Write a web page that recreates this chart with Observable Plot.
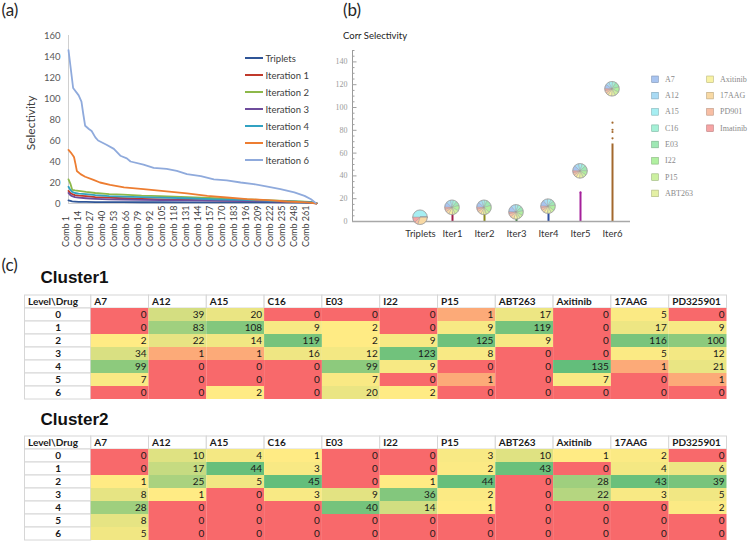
<!DOCTYPE html>
<html><head><meta charset="utf-8">
<script src="https://cdn.jsdelivr.net/npm/d3@7"></script>
<script src="https://cdn.jsdelivr.net/npm/@observablehq/plot@0.6"></script>
<style>
html,body{margin:0;padding:0;background:#fff;}
#root{position:relative;width:749px;height:546px;overflow:hidden;background:#fff;}
#root > svg{position:absolute;}
</style></head><body><div id="root"></div>
<script>
// ---------------- (a) Selectivity per combination ----------------
const seriesA = ["Triplets","Iteration 1","Iteration 2","Iteration 3","Iteration 4","Iteration 5","Iteration 6"];
const colorsA = ["#2f5597","#c0392b","#8db84a","#6e4c9c","#31a2c2","#ed7d31","#8faadc"];
const combTicks = [1,14,27,40,53,66,79,92,105,118,131,144,157,170,183,196,209,222,235,248,261];
const yTicksA = [0,20,40,60,80,100,120,140,160];
// shared combo grid for the lower series
const gridA = [1,3,5,8,12,20,30,45,60,80,100,130,160,190,220,250,262,269];
const triplets = [3,2.5,2,1.8,1.6,1.5,1.4,1.3,1.3,1.2,1.2,1.1,1.1,1,1,0.8,0.6,0.2];
const iter1 = [12,10,9,8,7.5,7,6,5.5,5,4.5,4,3.5,3,2.7,2.2,1.6,1,0.2];
const iter2 = [23,19,13,12.5,12,11,10,9,8.5,7.5,7,6,5,4,3,2,1.5,0.3];
const iter3 = [10,8,7,6,5.5,5,4.5,4,3.8,3.5,3.2,3,2.7,2.4,2,1.5,1,0.2];
const iter4 = [16,13,11,10,9.5,9,8,7,6.5,6,5.5,5,4,3.5,2.5,1.8,1.2,0.2];
const grid5 = [1,3.5,6,7,8.6,10,14,19,28,35,46,61,82,107,129,151,172,194,216,237,259,269];
const iter5 = [51,48.5,45.5,44,37.5,31,28,25.5,22.5,20,17.8,15.3,13.7,11.5,9.6,7.3,5.7,4.1,3.2,1.9,1,0];
const grid6 = [1,6,12,15,17,19,23,26,30,33,42,50,57,64,68,82,93,107,118,129,144,158,172,187,201,216,230,245,256,263,268];
const iter6 = [146,110,103,97,85,74,71,69,63,60,56,52,45.5,43,40,37,34,33,31,28,26,23,22,20,18.5,16,13.7,10.5,7.3,4,0.6];

// ---------------- (b) Corr Selectivity ----------------
const catsB = ["Triplets","Iter1","Iter2","Iter3","Iter4","Iter5","Iter6"];
const pieY = [3.3,12,12,8,13,44,116];
const stemTop = [0,8,8,5,9,25,68];
const stemColors = ["#888888","#a0204a","#8c8c1e","#3d7a3d","#2d4fa0","#a5209b","#a3682d"];
const outlierCat = ["Iter5","Iter6","Iter6","Iter6","Iter6"];
const outlierVal = [25.5,73,78.5,80.5,86.7];
const yTicksB = [0,20,40,60,80,100,120,140];
const yMinorB = [5,10,15,25,30,35,45,50,55,65,70,75,85,90,95,105,110,115,125,130,135,145,150];
const pieDrugs = ["A7","A12","A15","C16","E03","I22","P15","ABT263","Axitinib","17AAG","PD901","Imatinib"];
const pieColors = ["#a8c4f0","#a8daf4","#a6eef2","#a4f0d6","#9fe8b4","#b0f0a0","#ccf0a0","#e4f0a4","#f8f2a4","#f8d9a4","#f8bea4","#f6a4a4"];
const pieShares = [
  [0,0,50,0,0,0,0,0,0,30,8,12],
  [12,10,6,8,10,12,10,6,8,8,6,4],
  [12,8,6,6,14,16,8,6,6,8,6,4],
  [14,10,6,8,10,10,8,6,8,8,8,4],
  [14,10,8,6,10,12,8,8,8,6,6,4],
  [12,10,8,8,12,10,8,8,8,6,6,4],
  [10,8,8,8,12,12,10,8,8,6,6,4]
];

// ---------------- (c) Cluster tables ----------------
const drugs = ["A7","A12","A15","C16","E03","I22","P15","ABT263","Axitinib","17AAG","PD325901"];
const levels = ["0","1","2","3","4","5","6"];
const cluster1 = [
  [0,39,20,0,0,0,1,17,0,5,0],
  [0,83,108,9,2,0,9,119,0,17,9],
  [2,22,14,119,2,9,125,9,0,116,100],
  [34,1,1,16,12,123,8,0,0,5,12],
  [99,0,0,0,99,9,0,0,135,1,21],
  [7,0,0,0,7,0,1,0,7,0,1],
  [0,0,2,0,20,2,0,0,0,0,0]
];
const cluster2 = [
  [0,10,4,1,0,0,3,10,1,2,0],
  [0,17,44,3,0,0,2,43,0,4,6],
  [1,25,5,45,0,1,44,0,28,43,39],
  [8,1,0,3,9,36,2,0,22,3,5],
  [28,0,0,0,40,14,1,0,0,0,2],
  [8,0,0,0,0,0,0,0,0,0,0],
  [5,0,0,0,0,0,0,0,0,0,0]
];

const root = document.getElementById("root");
function place(el, left, top) {
  el.style.position = "absolute";
  el.style.left = left + "px";
  el.style.top = top + "px";
  root.appendChild(el);
}

// ---------- Plot A ----------
const dataA = [];
function pushSeries(name, xs, ys) { xs.forEach((x, i) => dataA.push({series: name, combo: x, value: ys[i]})); }
pushSeries("Triplets", gridA, triplets);
pushSeries("Iteration 1", gridA, iter1);
pushSeries("Iteration 2", gridA, iter2);
pushSeries("Iteration 3", gridA, iter3);
pushSeries("Iteration 4", gridA, iter4);
pushSeries("Iteration 5", grid5, iter5);
pushSeries("Iteration 6", grid6, iter6);

const plotA = Plot.plot({
  width: 340, height: 255, marginLeft: 68, marginRight: 23, marginTop: 35, marginBottom: 52,
  style: {fontFamily: "Lato, sans-serif", fontSize: "9.5px", color: "#595959", background: "transparent", overflow: "visible"},
  x: {domain: [1, 270], axis: null},
  y: {domain: [0, 160], ticks: yTicksA, tickSize: 0, tickPadding: 8, label: null},
  color: {domain: seriesA, range: colorsA},
  marks: [
    Plot.ruleX([1], {stroke: "#d0d0d0"}),
    Plot.ruleY([0], {stroke: "#d0d0d0"}),
    Plot.line(dataA, {x: "combo", y: "value", z: "series", stroke: "series", strokeWidth: 1.8}),
    Plot.text(combTicks, {x: d => d, text: d => "Comb " + d, rotate: -90, textAnchor: "start", frameAnchor: "bottom", dy: 43.5, fill: "#404040", fontSize: 9})
  ]
});
place(plotA, 0, 0);

// ---------- Plot B ----------
const stems = catsB.map((c, i) => ({cat: c, top: stemTop[i], color: stemColors[i]}));
const outliers = outlierCat.map((c, i) => ({cat: c, value: outlierVal[i], color: stemColors[catsB.indexOf(c)]}));
function pieMark(index, scales) {
  const g = d3.create("svg:g");
  const arc = d3.arc().innerRadius(0).outerRadius(7.3);
  const pie = d3.pie().sort(null).startAngle(-Math.PI / 2).endAngle(1.5 * Math.PI);
  catsB.forEach((c, i) => {
    const gg = g.append("g").attr("transform", `translate(${scales.x(c)},${scales.y(pieY[i])})`);
    gg.selectAll("path").data(pie(pieShares[i])).join("path")
      .attr("d", arc).attr("fill", (d, j) => pieColors[j])
      .attr("stroke", "#9a9a9a").attr("stroke-width", 0.4);
    gg.append("circle").attr("r", 7.3).attr("fill", "none").attr("stroke", "#9a9a9a").attr("stroke-width", 0.6);
  });
  return g.node();
}
const frameW = 419 - 22 - 119;
const plotB = Plot.plot({
  width: 419, height: 255, marginLeft: 22, marginRight: 119, marginTop: 50, marginBottom: 34,
  style: {fontFamily: "'Liberation Serif', serif", fontSize: "8px", color: "#9a9a9a", background: "transparent", overflow: "visible"},
  x: {type: "point", domain: catsB, range: [87.7, 283.7], padding: 0, axis: null},
  y: {domain: [0, 150], ticks: yTicksB, tickSize: 0, tickPadding: 5, line: true, label: null},
  marks: [
    Plot.ruleY(yMinorB, {stroke: "#a0a0a0", insetRight: frameW - 2.5}),
    Plot.ruleY(yTicksB, {stroke: "#a0a0a0", insetRight: frameW - 4.5}),
    Plot.ruleX(stems.filter(d => d.top > 0), {x: "cat", y1: 0, y2: "top", stroke: "color", strokeWidth: 2}),
    Plot.dot(outliers, {x: "cat", y: "value", r: 1.1, fill: "color"}),
    Plot.ruleY([0], {stroke: "#a8a8a8", strokeWidth: 1.6}),
    pieMark,
    Plot.text(catsB, {x: d => d, frameAnchor: "bottom", dy: 15, fill: "#333", fontFamily: "Lato, sans-serif", fontSize: 9.5})
  ]
});
place(plotB, 330, 0);

// ---------- Tables ----------
const LW = 66.2 / 57.8;
function tablePlot(vals) {
  const cells = [];
  levels.forEach((lv, r) => drugs.forEach((dr, c) => cells.push({level: lv, col: c, value: vals[r][c]})));
  const flat = cells.map(d => d.value);
  const mid = d3.quantile(flat, 0.5);
  const max = d3.max(flat);
  const header = drugs.map((d, c) => ({label: d, col: c}));
  return Plot.plot({
    width: 749, height: 112, marginLeft: 24.5, marginRight: 22.5, marginTop: 1, marginBottom: 1,
    style: {fontFamily: "Lato, sans-serif", fontSize: "10px", color: "#1a1a1a", background: "transparent", overflow: "visible"},
    x: {domain: [-LW, 11], axis: null},
    y: {type: "band", domain: ["hdr", ...levels], padding: 0, axis: null},
    color: {type: "linear", domain: [0, mid, max], range: ["#f8696b", "#ffeb84", "#63be7b"], interpolate: "rgb"},
    marks: [
      Plot.barX(header, {x1: d => d.col, x2: d => d.col + 1, y: () => "hdr", fill: "white", stroke: "#d6d6d6"}),
      Plot.barX(["hdr", ...levels], {x1: -LW, x2: 0, y: d => d, fill: "white", stroke: "#d6d6d6"}),
      Plot.barX(cells, {x1: d => d.col, x2: d => d.col + 1, y: "level", fill: "value"}),
      Plot.text(header, {x: "col", y: () => "hdr", text: "label", dx: 3, textAnchor: "start", fontWeight: "bold"}),
      Plot.text(["Level\\Drug"], {x: -LW, y: () => "hdr", text: d => d, dx: 3, textAnchor: "start", fontWeight: "bold"}),
      Plot.text(levels, {x: -LW / 2, y: d => d, text: d => d, textAnchor: "middle", fontWeight: "bold"}),
      Plot.text(cells, {x: d => d.col + 1, y: "level", text: d => String(d.value), dx: -2.5, textAnchor: "end"})
    ]
  });
}
place(tablePlot(cluster1), 0, 290.7);
place(tablePlot(cluster2), 0, 431.7);

// ---------- Overlay text and legends ----------
const ov = d3.create("svg").attr("width", 749).attr("height", 546)
  .style("position", "absolute").style("left", "0px").style("top", "0px");
function txt(x, y, s, opts) {
  const t = ov.append("text").attr("x", x).attr("y", y).text(s);
  for (const k in opts) t.attr(k, opts[k]);
  return t;
}
const lbl = {"font-family": "Lato, sans-serif", "font-size": 17, fill: "#262626"};
txt(1.5, 15.5, "(a)", lbl);
txt(343, 15.5, "(b)", lbl);
txt(1.5, 270.5, "(c)", lbl);
txt(343, 38.5, "Corr Selectivity", {"font-family": "Lato, sans-serif", "font-size": 9.5, fill: "#222"});
txt(0, 0, "Selectivity", {"font-family": "Lato, sans-serif", "font-size": 12, fill: "#404040", "text-anchor": "middle", "dominant-baseline": "central", transform: "translate(30,123) rotate(-90)"});
const cl = {"font-family": "'Liberation Sans', Arial, sans-serif", "font-size": 17, "font-weight": "bold", fill: "#111"};
txt(40.5, 283, "Cluster1", cl);
txt(40.5, 425, "Cluster2", cl);
// legend (a)
seriesA.forEach((s, i) => {
  const y = 58 + i * 17;
  ov.append("line").attr("x1", 245).attr("x2", 263).attr("y1", y).attr("y2", y).attr("stroke", colorsA[i]).attr("stroke-width", 2);
  txt(265.5, y, s, {"font-family": "Lato, sans-serif", "font-size": 9.5, fill: "#404040", "dominant-baseline": "central"});
});
// legend (b)
pieDrugs.forEach((s, i) => {
  const col = i < 8 ? 0 : 1, row = i < 8 ? i : i - 8;
  const x = col === 0 ? 651.7 : 706.7, y = 79.3 + row * 16.3;
  ov.append("rect").attr("x", x).attr("y", y - 3.3).attr("width", 6.6).attr("height", 6.6)
    .attr("fill", pieColors[i]).attr("stroke", d3.color(pieColors[i]).darker(0.8)).attr("stroke-width", 0.6);
  txt(x + 13.3, y, s, {"font-family": "'Liberation Serif', serif", "font-size": 8, fill: "#8a8a8a", "dominant-baseline": "central"});
});
root.appendChild(ov.node());
</script></body></html>
